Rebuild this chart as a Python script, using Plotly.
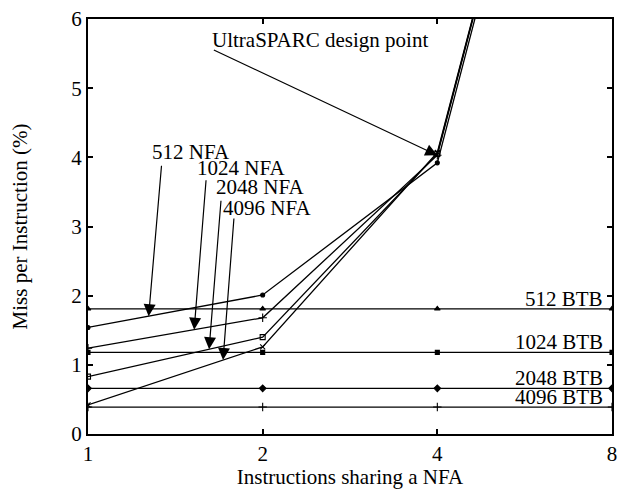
import math
import plotly.graph_objects as go

# ---- data ----
x_vals = [1, 2, 4, 8]
x_ticks = [1, 2, 4, 8]
x_tick_labels = ["1", "2", "4", "8"]

nfa_512 = [1.54, 2.01, 3.92, 13.6]
nfa_1024 = [1.24, 1.68, 4.03, 13.7]
nfa_2048 = [0.83, 1.40, 4.05, 13.7]
nfa_4096 = [0.42, 1.26, 4.07, 13.7]

btb_512 = [1.81, 1.81, 1.81, 1.81]
btb_1024 = [1.18, 1.18, 1.18, 1.18]
btb_2048 = [0.66, 0.66, 0.66, 0.66]
btb_4096 = [0.39, 0.39, 0.39, 0.39]

nfa_names = ["512 NFA", "1024 NFA", "2048 NFA", "4096 NFA"]
btb_names = ["512 BTB", "1024 BTB", "2048 BTB", "4096 BTB"]

# where on each NFA line the label arrows point (x value)
nfa_arrow_x = [1.272, 1.524, 1.617, 1.709]

FONT = "Liberation Serif, Times New Roman, serif"

fig = go.Figure()

nfa_series = [nfa_512, nfa_1024, nfa_2048, nfa_4096]
nfa_symbols = ["circle", "cross-thin-open", "square-open", "x-thin-open"]
nfa_sizes = [4, 6, 5, 5]
for name, ys, sym, sz in zip(nfa_names, nfa_series, nfa_symbols, nfa_sizes):
    fig.add_trace(go.Scatter(
        x=x_vals, y=ys, name=name, mode="lines+markers",
        line=dict(color="black", width=1.3),
        marker=dict(symbol=sym, size=sz, color="black",
                    line=dict(color="black", width=1.1)),
        showlegend=False,
    ))

btb_series = [btb_512, btb_1024, btb_2048, btb_4096]
btb_symbols = ["triangle-up", "square", "diamond", "cross-thin-open"]
btb_sizes = [5, 4, 5, 6]
for name, ys, sym, sz in zip(btb_names, btb_series, btb_symbols, btb_sizes):
    fig.add_trace(go.Scatter(
        x=x_vals, y=ys, name=name, mode="lines+markers",
        line=dict(color="black", width=1.3),
        marker=dict(symbol=sym, size=sz, color="black",
                    line=dict(color="black", width=1.1)),
        showlegend=False,
    ))


def interp_log(xq, xs, ys):
    for i in range(len(xs) - 1):
        if xs[i] <= xq <= xs[i + 1]:
            f = (math.log2(xq) - math.log2(xs[i])) / (math.log2(xs[i + 1]) - math.log2(xs[i]))
            return ys[i] + f * (ys[i + 1] - ys[i])
    return ys[-1]


annotations = []

# NFA label arrows (tails in pixel offsets from the tip)
nfa_tail_offsets = [(13, -152), (12, -151), (12, -150), (11, -143)]
for xq, ys, (ax, ay) in zip(nfa_arrow_x, nfa_series, nfa_tail_offsets):
    annotations.append(dict(
        x=math.log10(xq), y=interp_log(xq, x_vals, ys), xref="x", yref="y",
        text="", showarrow=True, ax=ax, ay=ay,
        arrowhead=2, arrowsize=2.0, arrowwidth=1.2, arrowcolor="black",
    ))

# NFA text labels (paper coords)
W, H = 529.0, 418.0
L, T = 88.0, 16.0
nfa_label_px = [(192, 150), (243, 166), (262, 185), (269, 206)]
for name, (px, py) in zip(nfa_names, nfa_label_px):
    annotations.append(dict(
        x=(px - L) / W, y=1 - (py - T) / H, xref="paper", yref="paper",
        text=name, showarrow=False, xanchor="center", yanchor="middle",
        font=dict(family=FONT, size=21, color="black"),
    ))

# UltraSPARC design point
design_y = nfa_1024[2]
annotations.append(dict(
    x=math.log10(4), y=design_y, xref="x", yref="y",
    text="", showarrow=True, ax=-225, ay=-106,
    arrowhead=2, arrowsize=2.0, arrowwidth=1.2, arrowcolor="black",
))
annotations.append(dict(
    x=(322.5 - L) / W, y=1 - (37 - T) / H, xref="paper", yref="paper",
    text="UltraSPARC design point", showarrow=False,
    xanchor="center", yanchor="middle",
    font=dict(family=FONT, size=21, color="black"),
))

# BTB labels
for name, ys in zip(btb_names, btb_series):
    annotations.append(dict(
        x=(604 - L) / W, y=ys[0], xref="paper", yref="y",
        text=name, showarrow=False, xanchor="right", yanchor="middle",
        xshift=6, yshift=10, font=dict(family=FONT, size=21, color="black"),
    ))

fig.update_layout(
    width=624, height=489,
    margin=dict(l=88, r=7, t=16, b=55),
    paper_bgcolor="white", plot_bgcolor="white",
    font=dict(family=FONT, size=20, color="black"),
    annotations=annotations,
    showlegend=False,
)

fig.update_xaxes(
    type="log", range=[0, math.log10(8)],
    tickvals=x_ticks, ticktext=x_tick_labels,
    ticks="inside", ticklen=5, tickwidth=2, tickcolor="black",
    showline=True, linecolor="black", linewidth=2, mirror="ticks",
    showgrid=False, zeroline=False,
    title=dict(text="Instructions sharing a NFA", standoff=0,
               font=dict(family=FONT, size=21)),
    tickfont=dict(family=FONT, size=21),
)
fig.update_yaxes(
    range=[0, 6], dtick=1,
    ticks="inside", ticklen=5, tickwidth=2, tickcolor="black",
    showline=True, linecolor="black", linewidth=2, mirror="ticks",
    showgrid=False, zeroline=False,
    title=dict(text="Miss per Instruction (%)", standoff=38,
               font=dict(family=FONT, size=21)),
    tickfont=dict(family=FONT, size=21),
)

fig.write_html("out.html")
